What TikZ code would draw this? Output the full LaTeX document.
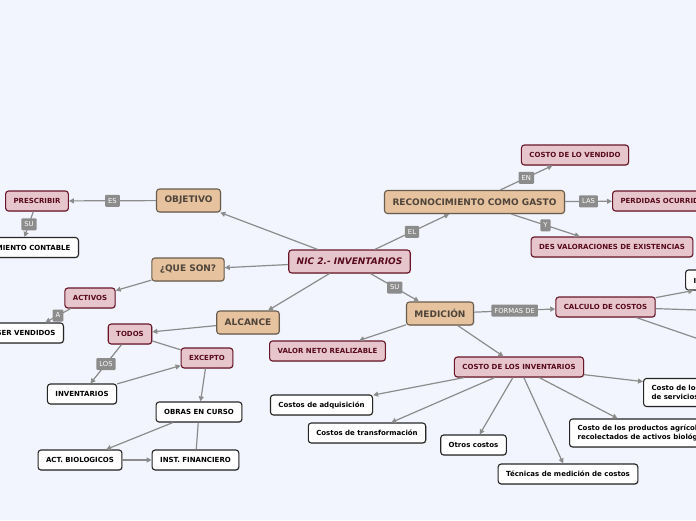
\documentclass[tikz,border=0pt]{standalone}
\usepackage{fontspec}
\setmainfont{DejaVu Sans}
\usetikzlibrary{arrows.meta,shadows}
\definecolor{fondo}{RGB}{242,245,254}
\definecolor{tanfill}{RGB}{230,194,158}
\definecolor{tanborde}{RGB}{105,92,78}
\definecolor{tantexto}{RGB}{78,68,58}
\definecolor{rosa}{RGB}{230,198,204}
\definecolor{rosaborde}{RGB}{104,22,40}
\definecolor{rosatexto}{RGB}{88,10,28}
\definecolor{gris}{RGB}{140,140,140}
\begin{document}
\begin{tikzpicture}[x=1pt,y=-1pt,
    caja/.style={rounded corners=3pt, line width=1.1pt, inner xsep=8pt, inner ysep=1pt,
        minimum height=20pt, font=\bfseries\fontsize{7}{9}\selectfont,
        drop shadow={opacity=.25, shadow xshift=.8pt, shadow yshift=-.8pt}},
    tema/.style={caja, fill=tanfill, draw=tanborde, text=tantexto, minimum height=23pt,
        font=\bfseries\fontsize{9}{10}\selectfont},
    sub/.style={caja, fill=rosa, draw=rosaborde, text=rosatexto},
    hoja/.style={caja, fill=white, draw=black!85, text=black},
    conn/.style={draw=gris, line width=1.2pt, -{Triangle[length=5pt,width=5pt]}},
    linea/.style={draw=gris, line width=1.2pt},
    etiq/.style={fill=gris, text=white, font=\fontsize{6.8}{7}\selectfont, inner xsep=3pt,
        inner ysep=1pt, minimum height=12pt, rounded corners=1pt}]
    \fill[fondo] (0,0) rectangle (696,520);
    \useasboundingbox (0,0) rectangle (696,520);
    \clip (0,0) rectangle (696,520);

    % centro
    \node[sub, minimum height=23pt, font=\bfseries\itshape\fontsize{9}{10}\selectfont] (nic) at (349.5,261.5) {NIC 2.- INVENTARIOS};

    % objetivo
    \node[tema] (obj) at (188.5,200.5) {OBJETIVO};
    \node[sub] (pres) at (37,201) {PRESCRIBIR};
    \node[hoja, anchor=east] (trat) at (79,247.5) {TRATAMIENTO CONTABLE};

    % que son
    \node[tema] (queson) at (188,269.5) {¿QUE SON?};
    \node[sub] (activos) at (90,298) {ACTIVOS};
    \node[hoja, anchor=east] (vendidos) at (64,333) {SER VENDIDOS};

    % alcance
    \node[tema] (alcance) at (248,322.5) {ALCANCE};
    \node[sub] (todos) at (130,334) {TODOS};
    \node[sub] (excepto) at (207,358) {EXCEPTO};
    \node[hoja] (invent) at (82,394) {INVENTARIOS};
    \node[hoja] (obras) at (199,412) {OBRAS EN CURSO};
    \node[hoja] (biolog) at (80,460) {ACT. BIOLOGICOS};
    \node[hoja] (financ) at (195.5,460) {INST. FINANCIERO};

    % reconocimiento
    \node[tema] (recon) at (474.5,202) {RECONOCIMIENTO COMO GASTO};
    \node[sub] (vendido) at (575,155) {COSTO DE LO VENDIDO};
    \node[sub, anchor=west] (perdidas) at (612,201) {PERDIDAS OCURRIDAS};
    \node[sub] (desval) at (612,247) {DES VALORACIONES DE EXISTENCIAS};

    % medicion
    \node[tema] (medicion) at (440,313.5) {MEDICIÓN};
    \node[sub] (vnr) at (327.5,351) {VALOR NETO REALIZABLE};
    \node[sub] (calculo) at (605.5,307) {CALCULO DE COSTOS};
    \node[hoja, anchor=west] (ident) at (685,280) {IDENTIFICACIÓN ESPECÍFICA};
    \coordinate (calc2) at (760,312);
    \coordinate (calc3) at (760,360);
    \node[sub] (cinv) at (519,367) {COSTO DE LOS INVENTARIOS};
    \node[hoja] (adq) at (321.5,405) {Costos de adquisición};
    \node[hoja] (transf) at (367,433) {Costos de transformación};
    \node[hoja] (otros) at (473.5,445) {Otros costos};
    \node[hoja] (tecn) at (568,474) {Técnicas de medición de costos};
    \node[hoja, anchor=west, align=left, minimum height=28pt] (agri) at (569,433) {Costo de los productos agrícolas\\recolectados de activos biológicos};
    \node[hoja, anchor=west, align=left, minimum height=28pt] (serv) at (643,392.5) {Costo de los inventarios para un prestador\\de servicios};

    % conectores
    \draw[conn] (nic) -- (obj);
    \draw[conn] (obj) -- node[etiq] {ES} (pres);
    \draw[conn] (pres) -- node[etiq] {SU} (trat);
    \draw[conn] (nic) -- (queson);
    \draw[conn] (queson) -- (activos);
    \draw[conn] (activos) -- node[etiq] {A} (vendidos);
    \draw[conn] (nic) -- (alcance);
    \draw[conn] (alcance) -- (todos);
    \draw[linea] (todos) -- (excepto);
    \draw[conn] (todos) -- node[etiq] {LOS} (invent);
    \draw[conn] (invent) -- (excepto);
    \draw[conn] (excepto) -- (obras);
    \draw[conn] (obras) -- (biolog);
    \draw[linea] (obras) -- (financ);
    \draw[conn] (biolog) -- (financ);
    \draw[conn] (nic) -- node[etiq] {EL} (recon);
    \draw[conn] (recon) -- node[etiq] {EN} (vendido);
    \draw[conn] (recon) -- node[etiq] {LAS} (perdidas);
    \draw[conn] (recon) -- node[etiq] {Y} (desval);
    \draw[conn] (nic) -- node[etiq] {SU} (medicion);
    \draw[conn] (medicion) -- node[etiq] {FORMAS DE} (calculo);
    \draw[conn] (medicion) -- (vnr);
    \draw[conn] (medicion) -- (cinv);
    \draw[conn] (calculo) -- (ident);
    \foreach \t in {calc2,calc3} {
        \draw[linea] (calculo) -- (\t);
    }
    \foreach \t in {adq,transf,otros,tecn,agri,serv} {
        \draw[conn] (cinv) -- (\t);
    }
\end{tikzpicture}
\end{document}
